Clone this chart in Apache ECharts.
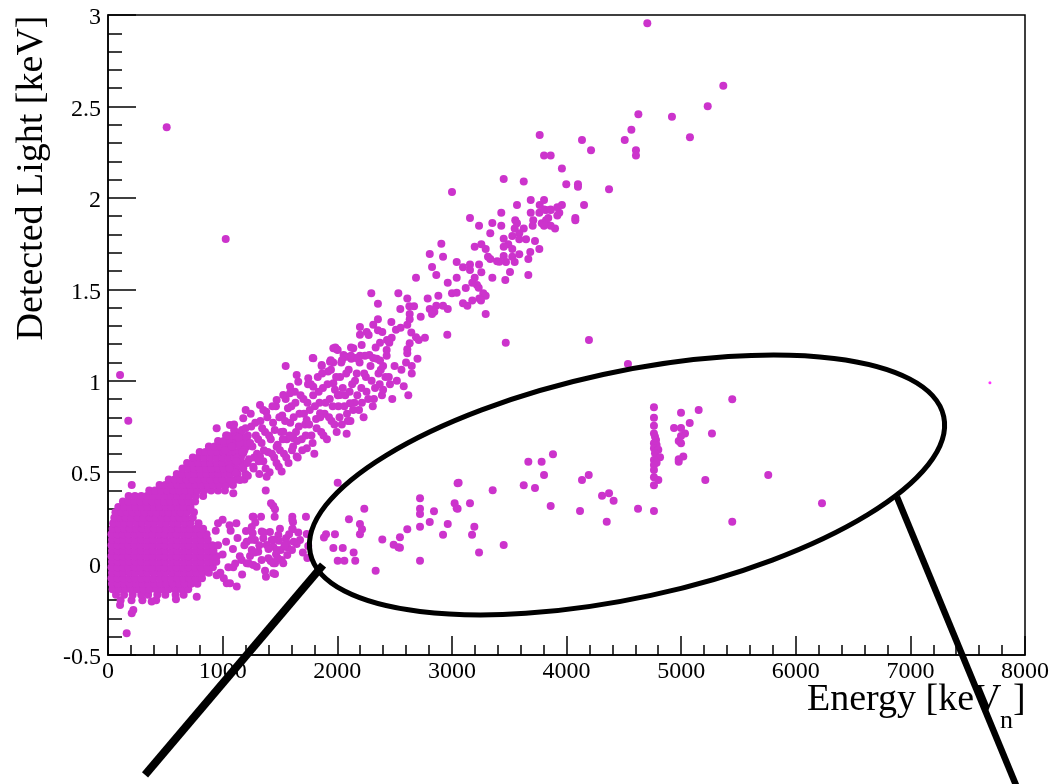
<!DOCTYPE html>
<html>
<head>
<meta charset="utf-8">
<script src="https://cdn.jsdelivr.net/npm/echarts@6/dist/echarts.min.js"></script>
<style>
html,body{margin:0;padding:0;background:#fff}
#chart{width:1053px;height:784px}
</style>
</head>
<body>
<div id="chart"></div>
<script>
// dense core (blob + start of the upper band): [light, [energies...]]
var blobRows = [
  [-0.20, [110, 205, 300, 420]],
  [-0.17, [70, 140, 215, 290, 350, 430, 500, 590, 660]],
  [-0.14, [40, 95, 150, 200, 255, 310, 365, 420, 470, 530, 585, 640, 700]],
  [-0.11, [35, 85, 140, 190, 245, 300, 350, 405, 460, 510, 565, 620, 670, 725, 780]],
  [-0.08, [30, 80, 130, 185, 235, 290, 340, 395, 450, 500, 555, 605, 660, 710, 765, 820]],
  [-0.05, [35, 85, 135, 190, 240, 295, 345, 400, 455, 505, 560, 610, 665, 715, 770, 825, 880]],
  [-0.02, [30, 80, 130, 180, 235, 285, 340, 390, 445, 495, 550, 600, 655, 705, 760, 810, 865, 915]],
  [0.01, [35, 85, 135, 185, 240, 290, 345, 395, 450, 500, 555, 605, 660, 710, 765, 815, 870, 920, 945]],
  [0.04, [30, 80, 130, 180, 235, 285, 340, 390, 445, 495, 550, 600, 655, 705, 760, 810, 865, 915, 950]],
  [0.07, [35, 85, 135, 185, 240, 290, 345, 395, 450, 500, 555, 605, 660, 710, 765, 815, 870, 920]],
  [0.10, [30, 80, 130, 180, 235, 285, 340, 390, 445, 495, 550, 600, 655, 705, 760, 810, 865, 910]],
  [0.13, [35, 85, 135, 185, 240, 290, 345, 395, 450, 500, 555, 605, 660, 710, 765, 815, 870]],
  [0.16, [30, 80, 130, 180, 235, 285, 340, 390, 445, 495, 550, 600, 655, 705, 760, 810, 860]],
  [0.19, [40, 90, 140, 190, 245, 295, 350, 400, 455, 505, 560, 610, 665, 715, 770, 830]],
  [0.22, [45, 95, 145, 195, 250, 300, 355, 405, 460, 510, 565, 615, 670, 720, 790]],
  [0.25, [55, 105, 155, 205, 260, 310, 365, 415, 470, 520, 575, 625, 680, 740]],
  [0.28, [65, 115, 165, 215, 270, 320, 375, 425, 480, 530, 585, 635, 690, 750]],
  [0.31, [90, 140, 190, 240, 295, 345, 400, 450, 505, 555, 610, 660, 720]],
  [0.34, [130, 180, 230, 285, 335, 390, 440, 495, 545, 600, 650, 705, 760]],
  [0.37, [180, 235, 290, 340, 395, 445, 500, 550, 605, 655, 710, 765, 830]],
  [0.40, [360, 410, 465, 515, 570, 620, 675, 725, 780, 840, 900, 960, 1020]],
  [0.43, [450, 500, 555, 605, 660, 710, 765, 815, 870, 920, 975, 1030, 1090]],
  [0.46, [530, 580, 635, 685, 740, 790, 845, 895, 950, 1000, 1060, 1120, 1190]],
  [0.49, [600, 650, 705, 755, 810, 860, 915, 965, 1020, 1070, 1130, 1200]],
  [0.52, [650, 700, 750, 800, 855, 905, 960, 1010, 1065, 1120, 1180]],
  [0.55, [690, 740, 790, 845, 895, 950, 1000, 1055, 1110, 1170]],
  [0.58, [740, 790, 840, 895, 945, 1000, 1050, 1105, 1160]],
  [0.61, [800, 850, 900, 955, 1005, 1060, 1110, 1170]],
  [0.64, [880, 930, 985, 1035, 1090, 1150, 1210]],
  [0.67, [960, 1010, 1065, 1120, 1180]],
  [0.70, [1030, 1090, 1150, 1220]],
  [0.73, [1100, 1170]]
];

// upper band, energy [keVn] vs light [keV]
var bandPoints = [
  [1110,0.50],[1130,0.58],[1150,0.66],[1160,0.72],[1180,0.53],[1190,0.62],[1210,0.69],[1220,0.48],[1230,0.57],[1250,0.75],[1260,0.64],[1270,0.52],[1290,0.70],[1300,0.60],
  [1320,0.49],[1330,0.78],[1340,0.66],[1355,0.56],[1370,0.72],[1380,0.83],[1395,0.61],[1410,0.50],[1420,0.68],[1440,0.77],[1450,0.58],[1465,0.86],[1480,0.65],[1490,0.53],
  [1510,0.72],[1520,0.81],[1535,0.60],[1550,0.90],[1560,0.68],[1575,0.55],[1590,0.77],[1600,0.86],[1615,0.64],[1630,0.94],[1640,0.72],[1655,0.58],[1670,0.82],[1690,0.68],
  [1705,0.90],[1720,0.76],[1735,0.63],[1745,0.98],[1760,0.84],[1775,0.70],[1790,0.92],[1800,0.60],[1815,0.79],[1830,1.02],[1845,0.88],[1860,0.72],[1875,0.96],[1890,0.82],
  [1910,0.68],[1920,1.05],[1935,0.90],[1950,0.78],[1965,1.10],[1980,0.95],[1995,0.72],[2010,0.86],[2025,1.02],[2040,0.76],[2055,1.14],[2070,0.92],[2085,0.82],[2100,1.06],
  [2115,0.78],[2130,0.98],[2150,0.88],[2170,1.04],[2190,0.84],[2210,0.96],[2230,0.80],[2250,1.02],[2270,0.90],[2290,1.08],[2310,0.86],[2330,0.96],[2360,1.04],[2390,0.92],
  [2420,1.02],[2460,0.98],[2500,1.08],[2380,1.06],[2400,0.95],[2450,1.02],[2520,1.00],[2560,1.06],[2600,1.10],[2650,1.04],[2700,1.12],[2480,0.90],[2580,0.97],[2620,0.92],
  [948,0.74],[1064,0.758],[1180,0.795],[1201,0.84],[1326,0.867],[1355,0.84],[1471,0.895],[1529,0.922],[1588,0.967],[1646,1.031],[1660,0.995],[1747,1.013],[1791,1.123],
  [1864,1.086],[1937,1.104],[1966,1.177],[1995,1.172],[2082,1.131],[2140,1.177],[2213,1.195],[2082,0.71],[1588,0.931],[1791,0.967],[1966,0.986],[2024,0.922],[2111,0.877],
  [1733,0.785],[1850,0.822],[1529,0.721],[1617,0.685],[1471,0.639],[1326,0.585],[1268,0.530],[1123,0.694],[1180,0.603],
  [1020,0.62],[1040,0.70],[1060,0.52],[1080,0.64],[1100,0.76],[1120,0.56],[1140,0.69],[1170,0.61],[1200,0.74],[1215,0.55],[1240,0.66],[1245,0.82],
  [1275,0.58],[1285,0.77],[1310,0.68],[1315,0.56],[1345,0.74],[1360,0.62],[1375,0.52],[1390,0.80],[1405,0.70],[1430,0.60],[1435,0.86],[1455,0.73],
  [1470,0.55],[1495,0.80],[1500,0.62],[1525,0.68],[1545,0.78],[1555,0.58],[1570,0.85],[1585,0.70],[1605,0.62],[1620,0.80],[1635,0.88],[1650,0.67],
  [1665,0.75],[1680,0.92],[1695,0.62],[1710,0.82],[1725,0.70],[1740,0.88],[1755,0.76],[1770,0.98],[1785,0.66],[1805,0.86],[1820,0.74],[1838,0.94],
  [1852,0.80],[1868,1.04],[1880,0.70],[1898,0.88],[1915,0.98],[1928,0.80],[1945,1.06],[1960,0.86],[1975,0.76],[1990,1.02],[2005,0.92],[2020,0.80],
  [2035,1.10],[2048,0.96],[2062,0.86],[2078,1.04],[2092,0.78],[2108,0.94],[2122,1.12],[2138,0.84],[2155,1.00],[2175,0.92],[2195,1.10],[2215,0.88],
  [2235,1.04],[2255,0.94],[2280,1.14],[2300,1.00],[2320,0.90],[2345,1.12],[2370,0.98],[2400,1.08],
  [3688,1.919],[3763,1.919],[3821,1.934],[3862,1.934],[3937,1.919],[3920,1.903],[3431,1.919],[3158,1.890],[4077,1.890],[4077,1.877],[3553,1.877],[3568,1.861],
  [3431,1.848],[3353,1.863],[3237,1.848],[3710,1.877],[3784,1.861],[3821,1.877],[3841,1.890],[3900,1.832],[3705,1.848],[3862,1.848],[3804,1.848],[3627,1.832],
  [3548,1.832],[3527,1.792],[3588,1.806],[3647,1.774],[3588,1.774],[3725,1.764],[3452,1.777],[3492,1.746],[3335,1.806],[3452,1.733],[3527,1.720],[3257,1.746],
  [3199,1.733],[3295,1.720],[3315,1.678],[3335,1.666],[3394,1.653],[3414,1.651],[3472,1.649],[3452,1.682],[3527,1.678],[3548,1.649],[3588,1.691],[3684,1.704],
  [3763,1.720],[3667,1.666],[3507,1.595],[3466,1.551],[3667,1.578],[3353,1.563],[2908,1.749],[2807,1.693],[2923,1.678],[2827,1.622],[2864,1.578],[2687,1.563],
  [3042,1.649],[3097,1.620],[3158,1.635],[3158,1.606],[3237,1.635],[3257,1.593],[3199,1.563],[3178,1.536],[3219,1.524],[3274,1.478],[3295,1.465],[3239,1.449],
  [3254,1.438],[3234,1.509],[3295,1.365],[3042,1.563],[2964,1.536],[3001,1.478],[3042,1.481],[3121,1.507],[3097,1.423],[3135,1.410],[3178,1.438],[2964,1.392],
  [2923,1.410],[2864,1.410],[2882,1.465],[2789,1.449],[2807,1.392],[2847,1.377],[2827,1.365],[2728,1.350],[2960,1.252],[3470,1.208],[4196,1.223],
  [2297,1.478],[2355,1.421],[2533,1.478],[2611,1.449],[2550,1.392],[2629,1.407],[2670,1.407],[2632,1.365],[2632,1.336],[2611,1.306],[2646,1.263],[2687,1.238],
  [2765,1.235],[2711,1.223],[2632,1.205],[2611,1.172],[2611,1.150],[2650,1.081],[2355,1.336],[2314,1.306],[2355,1.276],[2472,1.321],[2512,1.279],[2553,1.290],
  [2475,1.235],[2434,1.223],[2454,1.208],[2393,1.267],[2257,1.267],[2198,1.294],[2198,1.252],[2274,1.250],[2373,1.208],[2335,1.181],[2431,1.168],[2431,1.137],
  [2373,1.110],[2314,1.124],[2242,1.137],[2198,1.137],[2161,1.124],[2120,1.181],[2120,1.137],[2041,1.112],[1983,1.181],[2004,1.168],[1943,1.112],[1864,1.081],
  [1786,1.124],[1550,1.081],
  [4705,2.955],[5368,2.613],[5232,2.501],[4920,2.444],[4627,2.457],[4566,2.373],[4508,2.317],[4606,2.260],[4606,2.231],[5077,2.331],[4135,2.317],[4214,2.260],
  [4371,2.047],[3766,2.344],[3804,2.231],[3862,2.231],[3960,2.160],[3452,2.103],[3627,2.089],[3001,2.032],[3998,2.074],[4100,2.074],[4100,2.061],[4153,1.961],
  [3960,1.961],[3920,1.948],[3804,1.988],[3688,1.988],[3766,1.961],[3568,1.961],[3804,1.937],[3862,1.937]
];

// lower branch leaving the blob
var branchPoints = [
  [1515,0.503],[1376,0.399],[1422,0.330],[1442,0.315],[1457,0.297],[1268,0.256],[1335,0.256],[1285,0.224],[1608,0.256],[1614,0.226],[1727,0.256],[1454,0.256],
  [1204,0.178],[1262,0.166],[1341,0.175],[1413,0.173],[1486,0.156],[1553,0.138],[1611,0.188],[1675,0.129],[1734,0.162],[1492,0.125],[1428,0.129],[1355,0.138],
  [1282,0.129],[1210,0.120],[1385,0.102],[1442,0.092],[1507,0.074],[1564,0.089],[1605,0.074],[1646,0.107],[1466,0.051],[1399,0.029],[1419,0.014],[1457,0.002],
  [1529,0.002],[1564,0.047],[1311,0.065],[1239,0.042],[1166,0.020],[1268,-0.008],[1370,-0.039],[1457,-0.057],[1739,0.031],[1747,0.096],[1093,-0.020],[1064,-0.108],
  [1123,-0.126],[1378,-0.072],[1254,0.074],[1608,0.238],[1608,0.189],[1559,0.111],[1472,0.074],[1515,0.020],[1442,0.002],[1442,-0.053],[1210,0.002],[1297,-0.017],
  [1036,-0.108],[948,-0.064],[1000,0.05],[1030,0.12],[1050,-0.02],[1070,0.18],[1090,0.08],[1110,0.00],[1130,0.14],[1150,0.04],[1170,-0.06],[1190,0.10],
  [1230,0.00],[1250,0.13],[1280,0.06],[1320,0.10],[1340,0.02],[1360,0.17],[1400,0.08],[1440,0.13],[1480,0.03],[1500,0.19],[1540,0.10],[1580,0.16],
  [1620,0.12],[1660,0.17],[1700,0.06],[960,0.10],[980,-0.05],[940,0.18],[960,0.22],[1000,0.24],[1010,-0.08],[1060,0.21],[1120,0.22],
  [1093,0.384],[1151,0.457],[1384,0.475],[1262,0.256],[1254,0.200],[1646,0.585]
];

// sparse events inside the ellipse
var sparsePoints = [
  [2004,0.442],[2236,0.300],[2102,0.242],[2198,0.217],[2216,0.188],[2198,0.160],[1980,0.160],[1902,0.160],[1884,0.142],[2393,0.131],[2492,0.103],[2533,0.089],
  [2547,0.144],[2611,0.188],[2722,0.357],[2722,0.300],[2722,0.271],[2722,0.202],[2722,0.016],[2844,0.286],[2807,0.227],[2964,0.217],[2923,0.158],[3024,0.330],
  [3050,0.300],[3050,0.439],[1966,0.085],[2048,0.085],[2143,0.060],[2004,0.016],[2062,0.016],[2157,0.016],[2335,-0.039],[2547,0.087],
  [3042,0.302],[3158,0.330],[3196,0.202],[3176,0.158],[3237,0.060],[3356,0.401],[3452,0.102],[3059,0.442],[3627,0.428],[3725,0.413],[3667,0.557],[3783,0.557],
  [3882,0.598],[3804,0.485],[3862,0.315],[4135,0.457],[4194,0.485],[4118,0.288],[4310,0.371],[4371,0.384],[4411,0.344],[4351,0.229],[4624,0.300],
  [4763,0.855],[4763,0.798],[4763,0.754],[4763,0.712],[4772,0.694],[4781,0.676],[4763,0.658],[4786,0.649],[4763,0.631],[4801,0.622],[4772,0.603],[4816,0.581],
  [4763,0.567],[4786,0.552],[4763,0.539],[4763,0.512],[4763,0.472],[4801,0.457],[4763,0.428],[4763,0.288],
  [4999,0.825],[5153,0.840],[5075,0.769],[4938,0.742],[4999,0.742],[5034,0.712],[4999,0.698],[4979,0.670],[4999,0.658],[5269,0.712],[5019,0.585],[4979,0.570],
  [4979,0.557],[5211,0.457],[5446,0.898],[5446,0.229],[5760,0.485],[6229,0.330]
];

var outlierPoints = [
  [512,2.386],[1027,1.775],[105,1.031],[177,0.781],[207,0.43],[4536,1.092],
  [163,-0.381],[207,-0.272],[221,-0.254],[105,-0.226],[381,-0.208],[593,-0.195],[774,-0.181]
];
var tinyPoints = [[7694,0.989]];

var xTicks = [0, 8000, 1000];
var yTicks = [-0.5, 3, 0.5];

// annotation geometry (data units for anchors)
var ellipseCenter = [4528, 0.430];
var leftPointer = [[1876, -0.008], [323, -1.156]];
var rightPointer = [[6883, 0.364], [7939, -1.238]];

var serif = "'Liberation Serif','Times New Roman',serif";
var dotColor = '#cc33cc';

var mainPoints = [];
blobRows.forEach(function (row) {
  row[1].forEach(function (x) { mainPoints.push([x, row[0]]); });
});
mainPoints = mainPoints.concat(bandPoints, branchPoints, sparsePoints, outlierPoints);

var chart = echarts.init(document.getElementById('chart'));

var axisCommon = {
  type: 'value',
  axisLine: {show: true, onZero: false, lineStyle: {color: '#000', width: 1.5}},
  splitLine: {show: false},
  axisLabel: {color: '#000', fontFamily: serif, fontSize: 24, formatter: function (v) { return String(v); }}
};

chart.setOption({
  animation: false,
  backgroundColor: '#fff',
  grid: {left: 108, right: 28, top: 15, bottom: 129, show: true, borderColor: '#000', borderWidth: 1.5,
    containLabel: false, outerBoundsMode: 'none'},
  xAxis: echarts.util.merge({
    min: xTicks[0], max: xTicks[1], interval: xTicks[2],
    axisTick: {inside: true, length: 19, lineStyle: {color: '#000', width: 1.5}},
    minorTick: {show: true, splitNumber: 5, length: 10, lineStyle: {color: '#000', width: 1.5}},
    axisLabel: {margin: 5, showMinLabel: true, showMaxLabel: true}
  }, axisCommon),
  yAxis: echarts.util.merge({
    min: yTicks[0], max: yTicks[1], interval: yTicks[2],
    axisTick: {inside: true, length: 28, lineStyle: {color: '#000', width: 1.5}},
    minorTick: {show: true, splitNumber: 5, length: 14, lineStyle: {color: '#000', width: 1.5}},
    axisLabel: {margin: 7, lineHeight: 6, verticalAlign: 'top', showMinLabel: true, showMaxLabel: true}
  }, axisCommon),
  series: [
    {type: 'scatter', data: mainPoints, symbolSize: 8, itemStyle: {color: dotColor, opacity: 1}, silent: true},
    {type: 'scatter', data: tinyPoints, symbolSize: 3, itemStyle: {color: '#ff00ff'}, silent: true}
  ]
});

var c = chart.convertToPixel({gridIndex: 0}, ellipseCenter);
var l0 = chart.convertToPixel({gridIndex: 0}, leftPointer[0]);
var l1 = chart.convertToPixel({gridIndex: 0}, leftPointer[1]);
var r0 = chart.convertToPixel({gridIndex: 0}, rightPointer[0]);
var r1 = chart.convertToPixel({gridIndex: 0}, rightPointer[1]);

chart.setOption({
  graphic: [
    {type: 'ellipse', x: c[0], y: c[1], rotation: 12.2 * Math.PI / 180, z: 100,
      shape: {cx: 0, cy: 0, rx: 324, ry: 113},
      style: {fill: null, stroke: '#000', lineWidth: 5}},
    {type: 'line', z: 100, shape: {x1: l0[0], y1: l0[1], x2: l1[0], y2: l1[1]},
      style: {stroke: '#000', lineWidth: 8, lineCap: 'butt'}},
    {type: 'line', z: 100, shape: {x1: r0[0], y1: r0[1], x2: r1[0], y2: r1[1]},
      style: {stroke: '#000', lineWidth: 6.5, lineCap: 'butt'}},
    {type: 'text', x: 32, y: 178, rotation: Math.PI / 2, z: 50,
      style: {text: 'Detected Light [keV]', font: '38px ' + serif, fill: '#000', align: 'center', verticalAlign: 'middle'}},
    {type: 'text', x: 807, y: 700, z: 50,
      style: {text: 'Energy [keV', font: '38px ' + serif, fill: '#000', align: 'left', verticalAlign: 'middle'}},
    {type: 'text', x: 1000, y: 721, z: 50,
      style: {text: 'n', font: '26px ' + serif, fill: '#000', align: 'left', verticalAlign: 'middle'}},
    {type: 'text', x: 1013, y: 700, z: 50,
      style: {text: ']', font: '38px ' + serif, fill: '#000', align: 'left', verticalAlign: 'middle'}}
  ]
});
</script>
</body>
</html>
